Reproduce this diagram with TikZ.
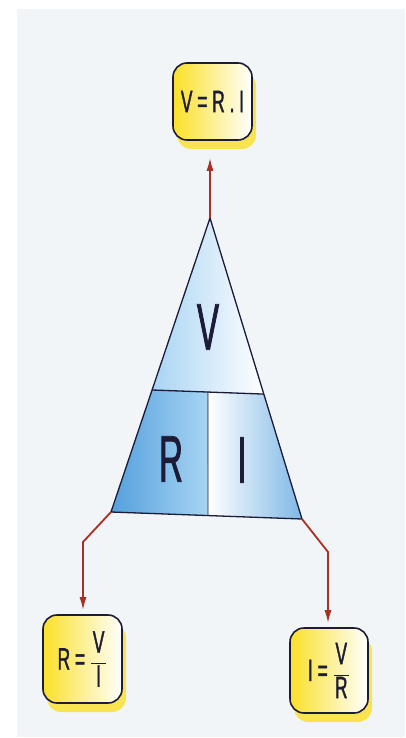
\documentclass[tikz,border=0pt]{standalone}
\usepackage{fontspec}
\usepackage{xcolor}
\usetikzlibrary{arrows.meta, shadows, calc}
\newfontfamily\condsans[FakeStretch=0.5, FakeBold=1.2]{Liberation Sans}
\newfontfamily\formsans[FakeStretch=0.56, FakeBold=1.2]{Liberation Sans}
\definecolor{panelgrey}{RGB}{241,245,247}
\definecolor{arrowred}{RGB}{168,48,36}
\definecolor{boxyellow}{RGB}{250,224,40}
\definecolor{shadowyellow}{RGB}{247,228,80}
\definecolor{inkblue}{RGB}{28,28,56}
\definecolor{tridark}{RGB}{84,160,222}
\definecolor{trilight}{RGB}{168,212,243}

% Helper macro for a stacked fraction inside a formula box
% Arguments: numerator, denominator
\def\ratio#1#2{$\displaystyle\frac{\hbox to 15pt{\hss#1\hss}}{\hbox to 15pt{\hss#2\hss}}$}

\begin{document}
\begin{tikzpicture}[x=1pt, y=-1pt,
    formula/.style={draw=inkblue, line width=1.6pt, rounded corners=14pt,
        left color=boxyellow, middle color=boxyellow!45, right color=white,
        general shadow={fill=shadowyellow, shadow xshift=4pt, shadow yshift=-9pt},
        font=\formsans\fontsize{31}{31}\selectfont, text=inkblue, inner sep=0pt},
    letter/.style={font=\condsans\fontsize{66}{66}\selectfont, text=inkblue},
    arrow/.style={draw=arrowred, line width=1.8pt, -{Latex[length=13pt, width=7pt]}},
    edge/.style={draw=inkblue, line width=1.3pt}]

% Page and panel
\useasboundingbox (0,0) rectangle (405,738);
\fill[panelgrey] (17,9) rectangle (405,737);

% Triangle corners
\coordinate (apex) at (210,218);
\coordinate (baseL) at (111,512);
\coordinate (baseR) at (302,519);
\coordinate (midL) at ($(apex)!0.585!(baseL)$);
\coordinate (midR) at ($(apex)!0.585!(baseR)$);
\coordinate (divT) at ($(midL)!0.5!(midR)$);
\coordinate (divB) at ($(baseL)!0.508!(baseR)$);

% Triangle cells
\fill[left color=trilight, middle color=trilight!45, right color=white] (apex) -- (midL) -- (midR) -- cycle;
\fill[left color=tridark, right color=trilight] (midL) -- (divT) -- (divB) -- (baseL) -- cycle;
\fill[left color=white, middle color=white!85!trilight, right color=tridark!75] (divT) -- (midR) -- (baseR) -- (divB) -- cycle;

% Triangle lines
\draw[edge] (apex) -- (baseL) -- (baseR) -- cycle;
\draw[edge] (midL) -- (midR);
\draw[inkblue, line width=0.8pt] (divT) -- (divB);

% Cell letters
\node[letter] (lblV) at (208,327) {V};
\node[letter] (lblR) at (171,459) {R};
\node[letter] (lblI) at (242,460) {I};

% Formula boxes
\node[formula, minimum width=79pt, minimum height=77pt] (vri) at (212.5,101.5) {V = R . I};
\node[formula, minimum width=79pt, minimum height=88pt] (rvi) at (82.5,659) {R = \ratio{V}{I}};
\node[formula, minimum width=78pt, minimum height=85pt] (ivr) at (329,670.5) {I =\ \ratio{V}{R}};

% Arrows
\coordinate (bendL) at (83,542);
\coordinate (bendR) at (328,552);
\draw[arrow, shorten >=17pt] (apex) -- (apex |- vri.south);
\draw[arrow, shorten >=4pt] (baseL) -- (bendL) -- (bendL |- rvi.north);
\draw[arrow, shorten >=4pt] (baseR) -- (bendR) -- (bendR |- ivr.north);

\end{tikzpicture}
\end{document}
